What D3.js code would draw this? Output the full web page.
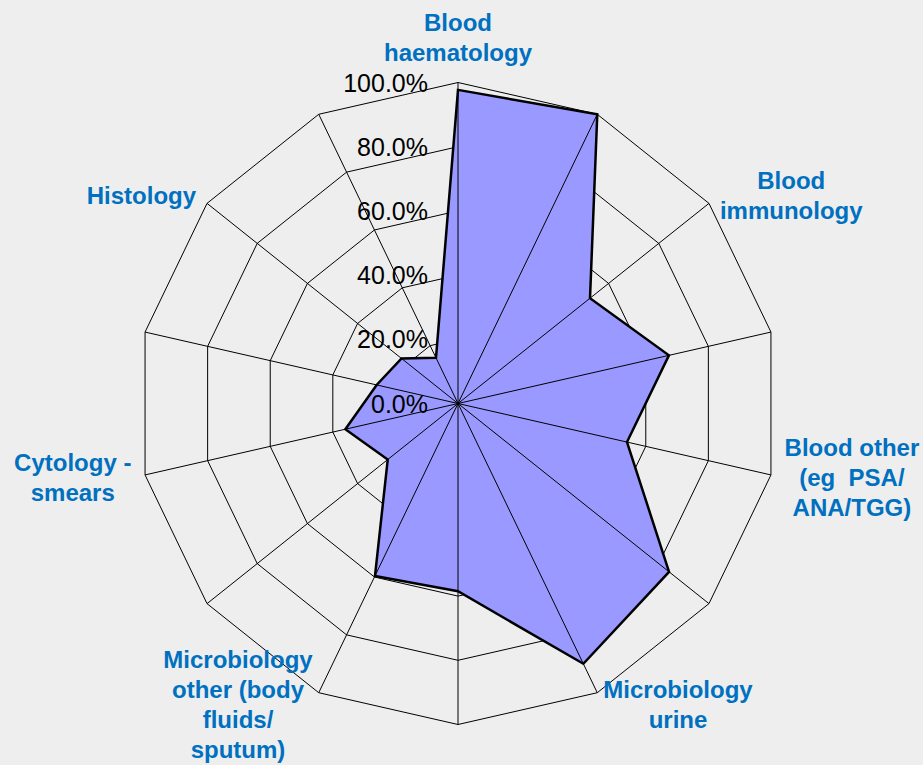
<!DOCTYPE html>
<html lang="en">
<head>
    <meta charset="UTF-8">
    <title>Radar chart</title>
    <script src="https://d3js.org/d3.v7.min.js"></script>
    <style>
        body {
            margin: 0;
            background-color: #eeeeee;
            font-family: "Liberation Sans", Arial, sans-serif;
        }
        .tick-label {
            font-size: 25px;
            fill: #000;
        }
        .cat-label {
            font-size: 24px;
            font-weight: bold;
            fill: #0070c0;
            white-space: pre;
        }
    </style>
</head>
<body>
    <div id="chart"></div>

    <script>
        // categories (blank ones have no label on the chart)
        const categories = [
            "Blood\nhaematology", "", "Blood\nimmunology", "",
            "Blood other\n(eg  PSA/\nANA/TGG)", "", "Microbiology\nurine", "",
            "Microbiology\nother (body\nfluids/\nsputum)", "", "Cytology -\nsmears", "",
            "Histology", ""
        ];
        const values = [0.977, 1.0, 0.526, 0.674, 0.54, 0.841, 0.90, 0.585, 0.596, 0.28, 0.36, 0.26, 0.225, 0.158];
        const ticks = [0, 0.2, 0.4, 0.6, 0.8, 1.0];

        const width = 923, height = 765;
        const cx = 458, cy = 403.5, radius = 321;

        const svg = d3.select("#chart").append("svg")
            .attr("width", width)
            .attr("height", height);

        const g = svg.append("g").attr("transform", `translate(${cx},${cy})`);

        const rScale = d3.scaleLinear().domain([0, 1]).range([0, radius]);
        const angle = d3.scaleLinear()
            .domain([0, categories.length])
            .range([0, 2 * Math.PI]);

        const idx = d3.range(categories.length);

        // grid rings
        const ringLine = d3.lineRadial()
            .angle(i => angle(i))
            .curve(d3.curveLinearClosed);

        g.selectAll(".ring")
            .data(ticks.slice(1))
            .enter().append("path")
            .attr("class", "ring")
            .attr("d", t => ringLine.radius(rScale(t))(idx))
            .attr("fill", "none")
            .attr("stroke", "#000")
            .attr("stroke-width", 1);

        // data area
        const dataLine = d3.lineRadial()
            .angle((d, i) => angle(i))
            .radius(d => rScale(d))
            .curve(d3.curveLinearClosed);

        g.append("path")
            .attr("d", dataLine(values))
            .attr("fill", "#9999ff")
            .attr("stroke", "none");

        // spokes on top of the fill
        g.selectAll(".spoke")
            .data(idx)
            .enter().append("line")
            .attr("class", "spoke")
            .attr("x1", 0).attr("y1", 0)
            .attr("x2", i => rScale(1) * Math.sin(angle(i)))
            .attr("y2", i => -rScale(1) * Math.cos(angle(i)))
            .attr("stroke", "#000")
            .attr("stroke-width", 1);

        // outline
        g.append("path")
            .attr("d", dataLine(values))
            .attr("fill", "none")
            .attr("stroke", "#000")
            .attr("stroke-width", 2.5)
            .attr("stroke-linejoin", "miter");

        // tick labels along the top spoke
        g.selectAll(".tick-label")
            .data(ticks)
            .enter().append("text")
            .attr("class", "tick-label")
            .attr("x", -30)
            .attr("y", t => -rScale(t) + 9)
            .attr("text-anchor", "end")
            .text(t => d3.format(".1%")(t));

        // category labels
        const lineH = 30;
        idx.forEach(i => {
            if (!categories[i]) return;
            const lines = categories[i].split("\n");
            const a = angle(i);
            const s = Math.sin(a), c = Math.cos(a);
            const vx = rScale(1) * s, vy = -rScale(1) * c;

            const t = g.append("text")
                .attr("class", "cat-label")
                .attr("text-anchor", "middle");
            lines.forEach(l => t.append("tspan").text(l));

            let maxW = 0;
            t.selectAll("tspan").each(function() {
                maxW = Math.max(maxW, this.getComputedTextLength());
            });
            const halfH = lines.length * lineH / 2;

            let lx, ly;
            if (Math.abs(s) < 0.01) {
                lx = vx;
                ly = vy - c * (halfH + 15);
            } else {
                lx = vx + Math.sign(s) * maxW / 2 + 14 * s;
                ly = vy - 13 * c;
            }

            t.selectAll("tspan")
                .attr("x", lx)
                .attr("y", (d, k) => ly - (lines.length - 1) * lineH / 2 + k * lineH + 8.5);
        });
    </script>
</body>
</html>
